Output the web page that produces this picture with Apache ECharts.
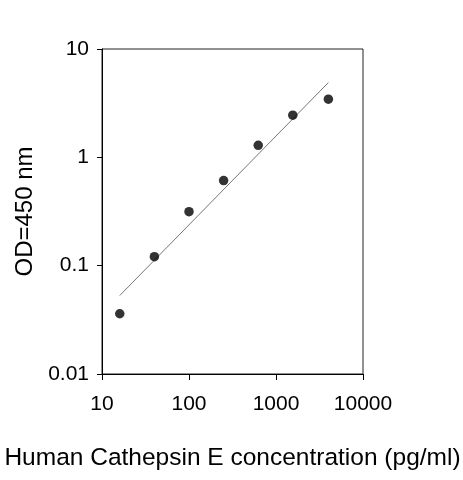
<!DOCTYPE html>
<html><head><meta charset="utf-8">
<script src="https://cdn.jsdelivr.net/npm/echarts@6/dist/echarts.min.js"></script>
<style>html,body{margin:0;padding:0;background:#fff}#c{width:463px;height:480px}</style>
</head><body><div id="c"></div>
<script>
const concentrations = [16, 40, 100, 250, 625, 1560, 4000];
const odValues = [0.036, 0.121, 0.315, 0.61, 1.29, 2.45, 3.44];
const fitX = [16, 4000];
const fitY = [0.053, 4.9];
const xTicks = [10, 100, 1000, 10000];
const yTicks = [0.01, 0.1, 1, 10];

const font = 'Liberation Sans, Arial, sans-serif';
const chart = echarts.init(document.getElementById('c'), null, {renderer: 'canvas'});
const fmt = v => String(+Number(v).toPrecision(6));
chart.setOption({
  animation: false,
  backgroundColor: '#fff',
  grid: {left: 102, right: 100, top: 49, bottom: 106, show: true, borderColor: '#222', borderWidth: 1,
         containLabel: false, outerBoundsMode: 'none'},
  xAxis: {
    type: 'log', logBase: 10, min: xTicks[0], max: xTicks[xTicks.length - 1],
    name: 'Human Cathepsin E concentration (pg/ml)', nameLocation: 'middle', nameGap: 72,
    nameTextStyle: {fontFamily: font, fontSize: 24.5, color: '#000'},
    axisLine: {show: true, lineStyle: {color: '#000', width: 1}},
    axisTick: {show: true, inside: false, length: 6, lineStyle: {color: '#000'}},
    minorTick: {show: false},
    splitLine: {show: false},
    axisLabel: {fontFamily: font, fontSize: 21, color: '#000', margin: 20, formatter: fmt, showMinLabel: true, showMaxLabel: true}
  },
  yAxis: {
    type: 'log', logBase: 10, min: yTicks[0], max: yTicks[yTicks.length - 1],
    name: 'OD=450 nm', nameLocation: 'middle', nameGap: 55, nameRotate: 90,
    nameTextStyle: {fontFamily: font, fontSize: 24, color: '#000'},
    axisLine: {show: true, lineStyle: {color: '#000', width: 1}},
    axisTick: {show: true, inside: false, length: 5, lineStyle: {color: '#000'}},
    splitLine: {show: false},
    axisLabel: {fontFamily: font, fontSize: 21, color: '#000', margin: 13, formatter: fmt, showMinLabel: true, showMaxLabel: true}
  },
  series: [
    {
      type: 'line', data: fitX.map((x, i) => [x, fitY[i]]), symbol: 'none',
      lineStyle: {color: '#777', width: 1}, z: 2
    },
    {
      type: 'scatter', data: concentrations.map((x, i) => [x, odValues[i]]),
      symbol: 'circle', symbolSize: 9.5, itemStyle: {color: '#000'}, z: 3
    }
  ]
});
</script></body></html>
